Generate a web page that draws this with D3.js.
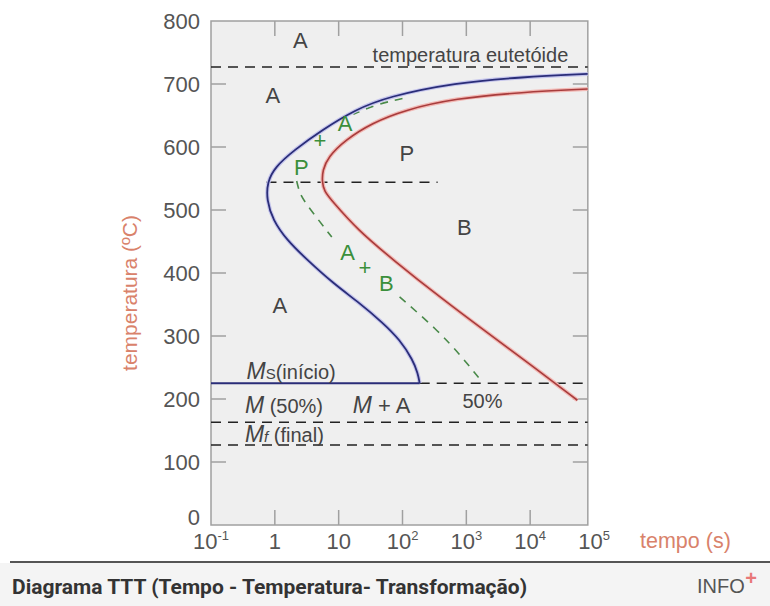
<!DOCTYPE html>
<html>
<head>
<meta charset="utf-8">
<script src="https://cdn.jsdelivr.net/npm/d3@7"></script>
<style>
  body { margin: 0; background: #fff; }
  svg { display: block; font-family: "Liberation Sans", Arial, sans-serif; }
</style>
</head>
<body>
<div id="chart"></div>
<script>
// ticks
const timeTicks = [0.1, 1, 10, 100, 1000, 10000, 100000];
const timeTickBase = ["10", "1", "10", "10", "10", "10", "10"];
const timeTickExp = ["-1", "", "", "2", "3", "4", "5"];
const tempTicks = [0, 100, 200, 300, 400, 500, 600, 700, 800];

// curves: [tempo (s), temperatura (ºC)]
const startCurve = [[80000, 716], [7400, 711], [660, 702], [59, 680], [18, 659], [5.5, 627], [2.0, 595],
  [1.0, 568], [0.76, 544], [0.745, 516], [0.93, 484], [1.55, 452], [3.2, 421], [8.1, 384], [21.5, 352],
  [49, 321], [91, 294], [145, 262], [174, 241], [186, 225]];
const finishCurve = [[80000, 692], [7400, 687], [660, 677], [110, 659], [33, 638], [12.6, 611], [6.8, 584],
  [5.6, 563], [5.5, 545], [5.9, 530], [8.1, 513], [20, 468], [71, 421], [380, 362], [2140, 305],
  [11000, 252], [55000, 198]];
const halfCurve = [[100, 677], [40, 668], [17, 652], [11, 636], [5.1, 611], [2.6, 568], [2.2, 546],
  [2.4, 530], [2.75, 516], [7.8, 457], [14, 433], [26, 410], [56, 384], [90, 362], [350, 310],
  [850, 267], [1740, 228]];
const halfVisible = [[650, 680], [445, 550], [225, 368]];

// horizontal reference lines
const msTemp = 225, msEnd = 186;
const refLines = [
  {temp: 727, from: 0.1, to: 80000},
  {temp: 544, from: 0.74, to: 355},
  {temp: msTemp, from: msEnd, to: 80000},
  {temp: 163, from: 0.1, to: 80000},
  {temp: 127, from: 0.1, to: 80000}
];

// region labels [texto, tempo, temperatura]
const blackLabels = [["A", 2.5, 770], ["A", 0.93, 683], ["P", 117, 590], ["B", 930, 473], ["A", 1.2, 349]];
const greenLabels = [["A", 12.6, 638], ["+", 5.1, 611], ["P", 2.6, 568], ["A", 13.8, 433], ["+", 25.7, 410], ["B", 56, 384]];

const W = 770, H = 606;
const svg = d3.select("#chart").append("svg").attr("width", W).attr("height", H);

const x = d3.scaleLog().domain([0.1, 100000]).range([211, 594]);
const y = d3.scaleLinear().domain([0, 800]).range([525, 21]);
const tMax = 80000;
const x0 = x(0.1), x1 = x(tMax), y0 = y(0), y1 = y(800);

// plot background
svg.append("rect").attr("x", x0).attr("y", y1).attr("width", x1 - x0).attr("height", y0 - y1)
  .attr("fill", "#efefef");

svg.append("clipPath").attr("id", "plot")
  .append("rect").attr("x", x0).attr("y", y1).attr("width", x1 - x0).attr("height", y0 - y1);

// inner ticks
const tk = 15;
const tickG = svg.append("g").attr("stroke", "#a0a0a0").attr("stroke-width", 1.5);
timeTicks.slice(1, 6).forEach(t => {
  tickG.append("line").attr("x1", x(t)).attr("x2", x(t)).attr("y1", y0).attr("y2", y0 - tk);
  tickG.append("line").attr("x1", x(t)).attr("x2", x(t)).attr("y1", y1).attr("y2", y1 + tk);
});
tempTicks.slice(1, 8).forEach(v => {
  tickG.append("line").attr("x1", x0).attr("x2", x0 + tk).attr("y1", y(v)).attr("y2", y(v));
  tickG.append("line").attr("x1", x1).attr("x2", x1 - tk).attr("y1", y(v)).attr("y2", y(v));
});

// frame
svg.append("rect").attr("x", x0).attr("y", y1).attr("width", x1 - x0).attr("height", y0 - y1)
  .attr("fill", "none").attr("stroke", "#a0a0a0").attr("stroke-width", 1.5);

// tick labels (0 sits a little higher so it clears the time labels)
svg.append("g").selectAll("text").data(tempTicks).enter().append("text")
  .attr("x", 200).attr("y", d => y(d) - (d === 0 ? 8 : 0)).attr("dy", "0.36em")
  .attr("text-anchor", "end").attr("font-size", 22).attr("fill", "#555")
  .text(d => d);

const xl = svg.append("g").selectAll("text").data(timeTicks).enter().append("text")
  .attr("x", d => x(d)).attr("y", 549).attr("text-anchor", "middle")
  .attr("font-size", 22).attr("fill", "#555");
xl.append("tspan").text((d, i) => timeTickBase[i]);
xl.append("tspan").attr("font-size", 13).attr("dy", -9).text((d, i) => timeTickExp[i]);

// axis titles
svg.append("text").attr("transform", "translate(137,293) rotate(-90)")
  .attr("text-anchor", "middle").attr("font-size", 21).attr("fill", "#d9826b")
  .text("temperatura (ºC)");
svg.append("text").attr("x", 640).attr("y", 548).attr("font-size", 21.5).attr("fill", "#d9826b")
  .text("tempo (s)");

const plot = svg.append("g").attr("clip-path", "url(#plot)");

// dashed reference lines
plot.selectAll(".ref").data(refLines).enter().append("line")
  .attr("class", "ref")
  .attr("x1", d => x(d.from)).attr("x2", d => x(d.to))
  .attr("y1", d => y(d.temp)).attr("y2", d => y(d.temp))
  .attr("stroke", "#222").attr("stroke-width", 1.6).attr("stroke-dasharray", "10,7");

// basis curve smooths out the reading noise in the points
const line = d3.line().x(d => x(d[0])).y(d => y(d[1])).curve(d3.curveBasis);

// 50% curve, dashed, interrupted by labels
halfVisible.forEach(r => {
  plot.append("path").datum(halfCurve.filter(d => d[1] >= r[0] && d[1] <= r[1]))
    .attr("d", line).attr("fill", "none")
    .attr("stroke", "#4a8a4a").attr("stroke-width", 1.6).attr("stroke-dasharray", "8,7");
});

// finish curve (red) with soft halo
plot.append("path").datum(finishCurve).attr("d", line).attr("fill", "none")
  .attr("stroke", "#f2b8b4").attr("stroke-width", 4);
plot.append("path").datum(finishCurve).attr("d", line).attr("fill", "none")
  .attr("stroke", "#a83c3c").attr("stroke-width", 1.6);

// start curve (blue) with halo
plot.append("path").datum(startCurve).attr("d", line).attr("fill", "none")
  .attr("stroke", "#c4c4ec").attr("stroke-width", 4);
plot.append("path").datum(startCurve).attr("d", line).attr("fill", "none")
  .attr("stroke", "#2a2d78").attr("stroke-width", 1.8);

// Ms line (solid blue)
plot.append("line").attr("x1", x(0.1)).attr("x2", x(msEnd)).attr("y1", y(msTemp)).attr("y2", y(msTemp))
  .attr("stroke", "#2a2d78").attr("stroke-width", 1.8);

// labels
svg.append("g").selectAll("text").data(blackLabels).enter().append("text")
  .attr("x", d => x(d[1])).attr("y", d => y(d[2])).attr("dy", "0.36em")
  .attr("text-anchor", "middle").attr("font-size", 22).attr("fill", "#444").text(d => d[0]);
svg.append("g").selectAll("text").data(greenLabels).enter().append("text")
  .attr("x", d => x(d[1])).attr("y", d => y(d[2])).attr("dy", "0.36em")
  .attr("text-anchor", "middle").attr("font-size", 22).attr("fill", "#3b8f3b").text(d => d[0]);

svg.append("text").attr("x", x(34)).attr("y", y(735)).attr("font-size", 20).attr("fill", "#444")
  .text("temperatura eutetóide");

// martensite labels
function mLabel(t, temp, sub, subItalic, rest) {
  const tx = svg.append("text").attr("x", x(t)).attr("y", y(temp)).attr("fill", "#444");
  tx.append("tspan").attr("font-size", 23).attr("font-style", "italic").text("M");
  if (sub) tx.append("tspan").attr("font-size", 15).attr("font-style", subItalic ? "italic" : "normal").text(sub);
  tx.append("tspan").attr("font-size", 20).text(rest);
}
mLabel(0.36, 232, "S", false, "(início)");
mLabel(0.34, 178, "", false, " (50%)");
mLabel(0.34, 132, "f", true, " (final)");

const ma = svg.append("text").attr("x", x(16.6)).attr("y", y(178)).attr("fill", "#444").attr("font-size", 22);
ma.append("tspan").attr("font-style", "italic").attr("font-size", 23).text("M");
ma.append("tspan").text(" + A");
svg.append("text").attr("x", x(870)).attr("y", y(186)).attr("font-size", 20).attr("fill", "#444").text("50%");

// caption bar
svg.append("rect").attr("x", 0).attr("y", 563).attr("width", W).attr("height", H - 563).attr("fill", "#f4f4f4");
svg.append("line").attr("x1", 10).attr("x2", W).attr("y1", 562).attr("y2", 562)
  .attr("stroke", "#555").attr("stroke-width", 2);
svg.append("text").attr("x", 12).attr("y", 594)
  .style("font-family", "Roboto, 'Liberation Sans', Arial, sans-serif")
  .attr("font-size", 21).attr("font-weight", "bold").attr("fill", "#333")
  .text("Diagrama TTT (Tempo - Temperatura- Transformação)");
svg.append("text").attr("x", 697).attr("y", 593)
  .attr("font-size", 20).attr("fill", "#555").text("INFO");
svg.append("text").attr("x", 751).attr("y", 585).attr("text-anchor", "middle")
  .attr("font-size", 20).attr("font-weight", "bold").attr("fill", "#e87878").text("+");
</script>
</body>
</html>
